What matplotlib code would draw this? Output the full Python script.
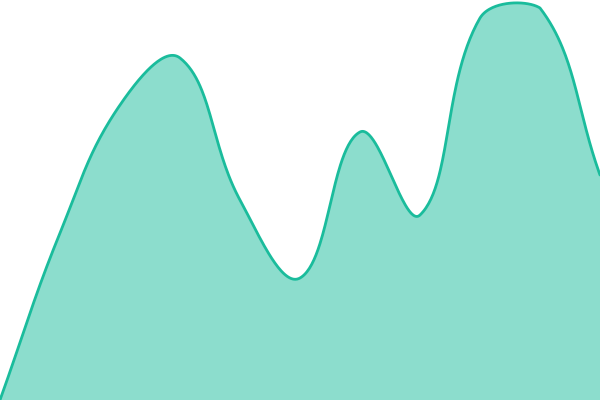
import numpy as np
import matplotlib
matplotlib.use("Agg")
import matplotlib.pyplot as plt

labels = list(range(11))
values = [0, 167, 295, 342, 200, 122, 268, 185, 382, 392, 225]

TENSION = 0.4

fig = plt.figure(figsize=(6, 4), dpi=100)
ax = fig.add_axes([0, 0, 1, 1])
ax.set_xlim(0, len(labels) - 1)
ax.set_ylim(0, 400)
ax.axis("off")

# points in display space
pts = ax.transData.transform(np.column_stack([labels, values]).astype(float))
W, H = fig.canvas.get_width_height()

n = len(pts)
cp_prev = pts.copy()
cp_next = pts.copy()
for i in range(n):
    cur = pts[i]
    prev = pts[i - 1] if i > 0 else cur
    nxt = pts[i + 1] if i < n - 1 else cur
    d01 = np.hypot(*(cur - prev))
    d12 = np.hypot(*(nxt - cur))
    tot = d01 + d12
    s01 = d01 / tot if tot else 0
    s12 = d12 / tot if tot else 0
    fa = TENSION * s01
    fb = TENSION * s12
    cp_prev[i] = cur - fa * (nxt - prev)
    cp_next[i] = cur + fb * (nxt - prev)

# cap control points to the chart area
cp_prev[:, 0] = np.clip(cp_prev[:, 0], 0, W)
cp_prev[:, 1] = np.clip(cp_prev[:, 1], 0, H)
cp_next[:, 0] = np.clip(cp_next[:, 0], 0, W)
cp_next[:, 1] = np.clip(cp_next[:, 1], 0, H)

curve = []
u = np.linspace(0, 1, 60)[:, None]
for i in range(n - 1):
    p0, p1, p2, p3 = pts[i], cp_next[i], cp_prev[i + 1], pts[i + 1]
    seg = ((1 - u) ** 3) * p0 + 3 * ((1 - u) ** 2) * u * p1 + 3 * (1 - u) * u ** 2 * p2 + u ** 3 * p3
    curve.append(seg if i == 0 else seg[1:])
curve = np.vstack(curve)
data_curve = ax.transData.inverted().transform(curve)
cx, cy = data_curve[:, 0], data_curve[:, 1]

color = "#1abc9c"
ax.fill_between(cx, cy, 0, color=color, alpha=0.5, linewidth=0)
ax.plot(cx, cy, color=color, linewidth=2.0, solid_capstyle="round")
fig.savefig("out.png", dpi=100)
